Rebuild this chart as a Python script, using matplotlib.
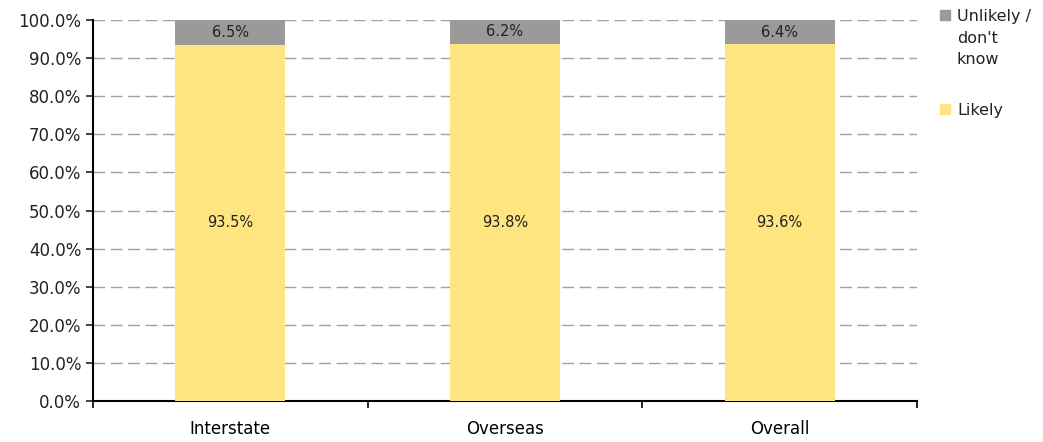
import matplotlib.pyplot as plt
from matplotlib.patches import Rectangle
from matplotlib.ticker import PercentFormatter

categories = ['Interstate', 'Overseas', 'Overall']
likely = [93.5, 93.8, 93.6]
unlikely = [6.5, 6.2, 6.4]
legend_labels = ["Unlikely /\ndon't\nknow", 'Likely']

yellow = '#ffe580'
grey = '#9a9a9a'

fig = plt.figure(figsize=(10.43, 4.42), dpi=100)
ax = fig.add_axes([93 / 1043, 1 - 401 / 442, 824 / 1043, 381 / 442])

x = list(range(len(categories)))
ax.bar(x, likely, width=0.4, color=yellow, zorder=3)
ax.bar(x, unlikely, width=0.4, bottom=likely, color=grey, zorder=3)

for i in x:
    ax.text(i, likely[i] / 2, '%.1f%%' % likely[i], ha='center', va='center',
            fontsize=10.5, color='#222222', zorder=4)
    ax.text(i, likely[i] + unlikely[i] / 2, '%.1f%%' % unlikely[i],
            ha='center', va='center', fontsize=10.5, color='#222222', zorder=4)

ax.set_xlim(-0.5, 2.5)
ax.set_ylim(0, 100)
ax.set_yticks(range(0, 101, 10))
ax.yaxis.set_major_formatter(PercentFormatter(decimals=1))
ax.grid(axis='y', color='#a0a0a0', linestyle=(0, (8.5, 4)), linewidth=1, zorder=0)

# category ticks sit on the boundaries between groups
ax.set_xticks([-0.5, 0.5, 1.5, 2.5])
ax.set_xticklabels([])
ax.set_xticks(x, minor=True)
ax.set_xticklabels(categories, minor=True)
ax.tick_params(axis='x', which='minor', length=0, pad=14, labelsize=12)
ax.tick_params(axis='x', which='major', length=5, width=1.2, direction='out')
ax.tick_params(axis='y', length=5, width=1.2, direction='out', labelsize=12,
               colors='#222222')

for side in ['top', 'right']:
    ax.spines[side].set_visible(False)
ax.spines['left'].set_linewidth(1.5)
ax.spines['bottom'].set_linewidth(1.5)

# hand-placed legend: square swatch beside the first line of each label
W, H = 1043, 442
for label, color, top in zip(legend_labels, [grey, yellow], [9, 103]):
    fig.patches.append(Rectangle((940 / W, 1 - (top + 11) / H), 10 / W, 10 / H,
                                 transform=fig.transFigure, color=color))
    fig.text(957 / W, 1 - top / H, label, ha='left', va='top', fontsize=11.5,
             linespacing=1.55, color='#222222')

fig.savefig('out.png', dpi=100)
